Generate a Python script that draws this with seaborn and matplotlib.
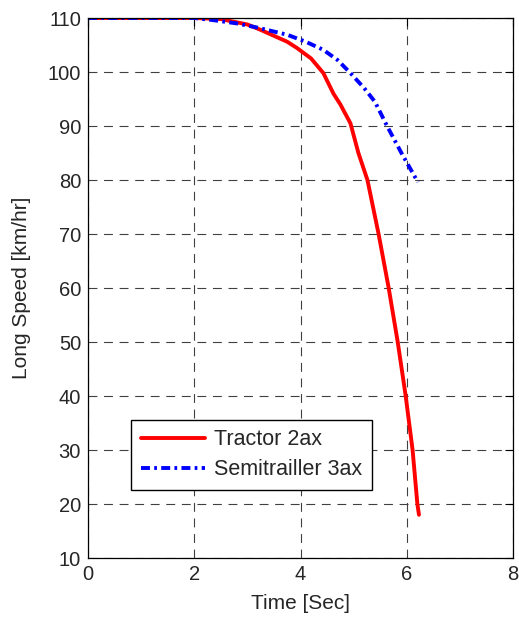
import matplotlib
matplotlib.use("Agg")
import matplotlib.pyplot as plt
import seaborn as sns
import pandas as pd

# Data
tractor_t = [0, 2.0, 2.5, 3.0, 3.25, 3.5, 3.75, 3.94, 4.2, 4.43, 4.62, 4.75, 4.94, 5.09, 5.26, 5.47, 5.66, 5.83, 5.98, 6.11, 6.2, 6.23]
tractor_v = [110, 110, 109.8, 108.8, 107.8, 106.7, 105.6, 104.4, 102.5, 99.8, 96, 94, 90.5, 85, 80, 70, 60, 50, 40, 30, 20, 18]
semi_t = [0, 2.0, 2.36, 2.8, 3.2, 3.75, 4.1, 4.43, 4.7, 4.94, 5.2, 5.4, 5.64, 5.9, 6.21]
semi_v = [110, 110, 109.6, 109, 108.2, 106.9, 105.6, 104.1, 102.2, 99.8, 97, 94.5, 89.8, 85, 79.6]
x_ticks = [0, 2, 4, 6, 8]
y_ticks = [10, 20, 30, 40, 50, 60, 70, 80, 90, 100, 110]

sns.set_style("white")
plt.rcParams['font.family'] = ['Liberation Sans', 'DejaVu Sans']

fig = plt.figure(figsize=(5.19, 6.18), dpi=100)
ax = fig.add_axes([88/519, 60/618, 425/519, 540/618])

df1 = pd.DataFrame({"t": tractor_t, "v": tractor_v})
df2 = pd.DataFrame({"t": semi_t, "v": semi_v})
sns.lineplot(data=df1, x="t", y="v", ax=ax, color="red", lw=2.8, label="Tractor 2ax", sort=False)
sns.lineplot(data=df2, x="t", y="v", ax=ax, color="blue", lw=2.8, label="Semitrailler 3ax", sort=False)
ax.lines[1].set_dashes([2.3, 1.1, 0.7, 1.1])

ax.set_xlim(0, 8)
ax.set_ylim(10, 110)
ax.set_xticks(x_ticks)
ax.set_yticks(y_ticks)
ax.grid(True, color="#404040", linestyle=(0, (8, 6)), linewidth=0.8)
ax.tick_params(direction="in", length=5.5, labelsize=14.5, top=True, right=True,
               color="black", pad=5)
for s in ax.spines.values():
    s.set_visible(True)
    s.set_color("black")
    s.set_linewidth(0.9)
ax.set_xlabel("Time [Sec]", fontsize=15, labelpad=7)
ax.set_ylabel("Long Speed [km/hr]", fontsize=15, labelpad=12)

leg = ax.legend(loc="lower left", bbox_to_anchor=(0.101, 0.126), fancybox=False,
                edgecolor="black", framealpha=1, fontsize=15.5, handlelength=3.0,
                borderpad=0.45, labelspacing=0.42, handletextpad=0.4,
                borderaxespad=0)
leg.get_frame().set_linewidth(1.0)

fig.savefig("out.png", dpi=100, facecolor="white")
